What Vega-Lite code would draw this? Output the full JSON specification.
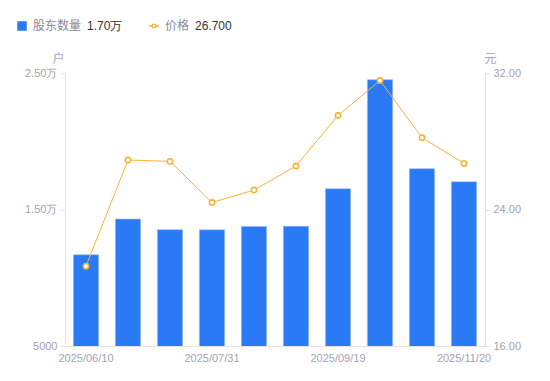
{
  "$schema": "https://vega.github.io/schema/vega-lite/v6.json",
  "width": 420,
  "height": 273,
  "autosize": {"type": "none"},
  "padding": {"left": 65, "top": 73, "right": 65, "bottom": 35},
  "background": "white",
  "config": {
    "view": {"stroke": null},
    "font": "Noto Sans CJK SC",
    "axis": {
      "labelFont": "Liberation Sans",
      "labelFontSize": 11,
      "labelColor": "#a3a3b1",
      "domainColor": "#e3e3e3",
      "tickColor": "#e3e3e3",
      "titleFont": "Noto Sans CJK SC",
      "titleFontSize": 12,
      "titleFontWeight": "normal",
      "titleColor": "#a3a3b1",
      "grid": false
    },
    "legend": {
      "labelFont": "Noto Sans CJK SC",
      "labelFontSize": 12,
      "labelColor": "#8a8a96",
      "titleFont": "Liberation Sans",
      "titleFontSize": 12,
      "titleFontWeight": "normal",
      "titleColor": "#333333"
    }
  },
  "data": {
    "values": [
      {"date": "2025/06/10", "holders": 11680, "price": 20.68},
      {"date": "2025/06/20", "holders": 14300, "price": 26.90},
      {"date": "2025/06/30", "holders": 13520, "price": 26.82},
      {"date": "2025/07/31", "holders": 13510, "price": 24.41},
      {"date": "2025/08/20", "holders": 13760, "price": 25.14},
      {"date": "2025/08/31", "holders": 13770, "price": 26.55},
      {"date": "2025/09/19", "holders": 16520, "price": 29.51},
      {"date": "2025/09/30", "holders": 24510, "price": 31.56},
      {"date": "2025/10/31", "holders": 17990, "price": 28.21},
      {"date": "2025/11/20", "holders": 17030, "price": 26.70}
    ]
  },
  "encoding": {
    "x": {
      "field": "date",
      "type": "ordinal",
      "sort": null,
      "scale": {"paddingInner": 0.4, "paddingOuter": 0.2},
      "axis": {
        "title": null,
        "labelAngle": 0,
        "ticks": false,
        "labelPadding": 6,
        "values": ["2025/06/10", "2025/07/31", "2025/09/19", "2025/11/20"]
      }
    }
  },
  "layer": [
    {
      "mark": {"type": "bar", "stroke": "#8fb8fb", "strokeWidth": 0.6, "clip": true},
      "encoding": {
        "y": {
          "field": "holders",
          "type": "quantitative",
          "scale": {"domain": [5000, 25000], "nice": false, "zero": false},
          "axis": {
            "orient": "left",
            "values": [5000, 15000, 25000],
            "labelExpr": "datum.value >= 10000 ? format(datum.value / 10000, '.2f') + '万' : format(datum.value, 'd')",
            "tickSize": 5,
            "labelPadding": 3,
            "title": "户",
            "titleAngle": 0,
            "titleX": -7,
            "titleY": -15,
            "titleAlign": "center",
            "titleBaseline": "middle"
          }
        },
        "fill": {
          "datum": "股东数量",
          "type": "nominal",
          "scale": {"range": ["#2a7af5"]},
          "legend": {
            "orient": "none",
            "legendX": -49,
            "legendY": -53,
            "title": "1.70万",
            "titleOrient": "right",
            "titlePadding": 6,
            "titleBaseline": "middle",
            "symbolType": "square",
            "symbolSize": 90,
            "symbolStrokeWidth": 0,
            "labelOffset": 5,
            "padding": 0
          }
        }
      }
    },
    {
      "encoding": {
        "y": {
          "field": "price",
          "type": "quantitative",
          "scale": {"domain": [16, 32], "nice": false, "zero": false},
          "axis": {
            "orient": "right",
            "values": [16, 24, 32],
            "format": ".2f",
            "tickSize": 5,
            "labelPadding": 3,
            "title": "元",
            "titleAngle": 0,
            "titleX": 5,
            "titleY": -15,
            "titleAlign": "center",
            "titleBaseline": "middle"
          }
        },
        "stroke": {
          "datum": "价格",
          "type": "nominal",
          "scale": {"range": ["#f7b23b"]},
          "legend": {
            "orient": "none",
            "legendX": 83,
            "legendY": -53,
            "title": "26.700",
            "titleOrient": "right",
            "titlePadding": 6,
            "titleBaseline": "middle",
            "symbolType": "M-1,0H-0.35M0.35,0H1M-0.35,0A0.35,0.35,0,1,1,0.35,0A0.35,0.35,0,1,1,-0.35,0",
            "symbolSize": 100,
            "symbolStrokeWidth": 1.5,
            "symbolFillColor": "white",
            "labelOffset": 5,
            "padding": 0
          }
        }
      },
      "layer": [
        {"mark": {"type": "line", "strokeWidth": 1}},
        {"mark": {"type": "point", "filled": true, "fill": "white", "strokeWidth": 1.6, "size": 28, "opacity": 1}}
      ]
    }
  ],
  "resolve": {"scale": {"y": "independent"}}
}
